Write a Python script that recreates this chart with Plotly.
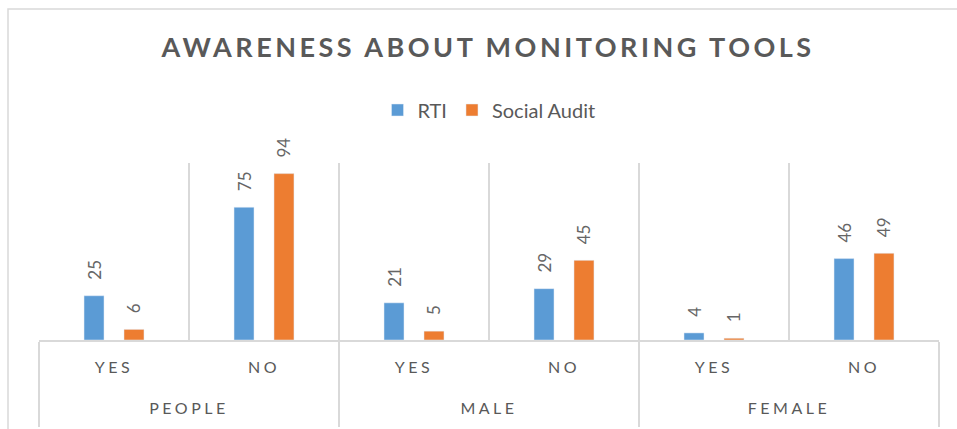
import plotly.graph_objects as go

groups = ["PEOPLE", "PEOPLE", "MALE", "MALE", "FEMALE", "FEMALE"]
answers = ["YES", "NO", "YES", "NO", "YES", "NO"]
rti = [25, 75, 21, 29, 4, 46]
social_audit = [6, 94, 5, 45, 1, 49]

FONT = "Lato, 'Open Sans', sans-serif"
GREY = "#595959"
LABEL_PAD = "\u00a0\u00a0\u00a0"

# second-level labels sit lower, as in the reference
group_labels = ["<br><br>" + g for g in groups]

fig = go.Figure()
for name, vals, color in [("RTI", rti, "#5B9BD5"), ("Social Audit", social_audit, "#ED7D31")]:
    fig.add_trace(go.Bar(
        x=[group_labels, answers], y=vals, name=name, marker_color=color,
        text=vals, texttemplate=LABEL_PAD + "%{text}", textposition="outside", textangle=-90,
        constraintext="none",
        textfont=dict(family=FONT, size=17, color="#666666"), cliponaxis=False,
    ))

fig.update_layout(
    width=957, height=429,
    margin=dict(l=39, r=18, t=163, b=89),
    paper_bgcolor="white", plot_bgcolor="white",
    barmode="group", bargap=0.467, bargroupgap=0.5,
    title=dict(text="<b>AWARENESS ABOUT MONITORING TOOLS</b>", x=0.51, xanchor="center",
               y=1 - 48 / 429, yanchor="middle",
               font=dict(family=FONT, size=27, color=GREY)),
    legend=dict(orientation="h", x=0.5, xanchor="center",
                y=(429 - 110 - 89) / (429 - 163 - 89), yref="paper",
                yanchor="middle", font=dict(family=FONT, size=20, color=GREY),
                traceorder="normal"),
    showlegend=True,
)

fig.update_xaxes(
    type="multicategory", automargin=False,
    showline=True, linecolor="#d9d9d9", linewidth=1.5,
    tickson="boundaries", showgrid=True, gridcolor="#d9d9d9", gridwidth=1.5,
    showdividers=True, dividercolor="#d9d9d9", dividerwidth=1.5,
    ticks="", ticklabelstandoff=12, tickfont=dict(family=FONT, size=16, color=GREY),
)
fig.update_yaxes(range=[0, 100], visible=False, showgrid=False, automargin=False)

fig.add_shape(type="rect", xref="paper", yref="paper",
              x0=(8 - 39) / 900, x1=1.1, y0=-1.0, y1=(340 - 9) / 177,
              line=dict(color="#d9d9d9", width=1.5), fillcolor="rgba(0,0,0,0)", layer="below")

post = """
document.body.style.margin = '0';
var s = document.createElement('style');
s.innerHTML = 'body{margin:0} .gtitle{letter-spacing:3.5px} .xtick text{letter-spacing:3.5px} .xtick2 text{letter-spacing:3.5px; translate:0px -10px}';
document.head.appendChild(s);
"""
fig.write_html("out.html", post_script=post, config={"displayModeBar": False})
